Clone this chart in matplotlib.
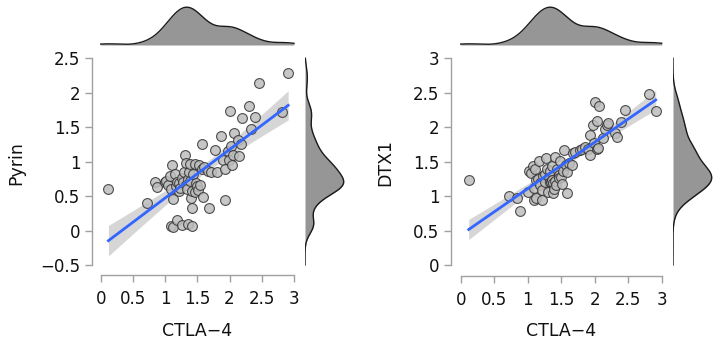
import matplotlib
matplotlib.use('Agg')
import matplotlib.pyplot as plt
import numpy as np

# CTLA-4 expression shared by both panels
ctla4 = [0.12, 0.72, 0.84, 0.88, 1.00, 1.02, 1.05, 1.08, 1.09, 1.09,
         1.11, 1.12, 1.13, 1.15, 1.17, 1.18, 1.19, 1.21, 1.22, 1.23,
         1.26, 1.26, 1.27, 1.29, 1.31, 1.32, 1.33, 1.34, 1.35, 1.36,
         1.37, 1.38, 1.38, 1.40, 1.41, 1.41, 1.42, 1.43, 1.46, 1.47,
         1.48, 1.50, 1.51, 1.53, 1.54, 1.57, 1.58, 1.59, 1.61, 1.66,
         1.68, 1.71, 1.78, 1.81, 1.86, 1.90, 1.93, 1.93, 1.98, 1.99,
         2.01, 2.03, 2.04, 2.05, 2.07, 2.13, 2.15, 2.18, 2.20, 2.30,
         2.33, 2.40, 2.45, 2.81, 2.91]

pyrin = [0.61, 0.40, 0.71, 0.63, 0.71, 0.72, 0.66, 0.79, 0.61, 0.06,
         0.95, 0.05, 0.46, 0.82, 0.64, 0.15, 0.70, 0.69, 0.58, 0.62,
         0.08, 0.76, 0.71, 0.85, 1.09, 0.98, 0.66, 0.61, 0.75, 0.10,
         0.85, 0.96, 0.72, 0.47, 0.32, 0.06, 0.58, 0.82, 0.56, 0.97,
         0.69, 0.64, 0.59, 0.95, 0.66, 0.90, 1.25, 0.49, 0.92, 0.86,
         0.32, 0.85, 1.17, 0.85, 1.37, 1.03, 0.44, 0.89, 1.15, 1.03,
         1.74, 1.23, 0.95, 1.09, 1.41, 1.31, 1.08, 1.26, 1.63, 1.81,
         1.47, 1.65, 2.14, 1.72, 2.29]

dtx1 = [1.24, 1.00, 0.97, 0.78, 1.06, 1.37, 1.33, 1.44, 0.95, 1.11,
        1.40, 0.97, 1.23, 1.25, 1.51, 1.19, 1.16, 1.09, 0.95, 1.29,
        1.21, 1.32, 1.55, 1.39, 1.06, 1.27, 1.20, 1.37, 1.20, 1.43,
        1.24, 1.19, 1.04, 1.10, 1.57, 1.22, 1.16, 1.39, 1.31, 1.26,
        1.51, 1.28, 1.18, 1.37, 1.67, 1.45, 1.35, 1.05, 1.48, 1.45,
        1.63, 1.64, 1.67, 1.68, 1.71, 1.69, 1.60, 1.88, 2.03, 1.77,
        2.36, 2.09, 1.69, 1.70, 2.31, 1.84, 1.98, 2.03, 2.06, 1.91,
        1.86, 2.07, 2.25, 2.48, 2.24]

x_ticks = [0, 0.5, 1, 1.5, 2, 2.5, 3]
pyrin_ticks = [-0.5, 0, 0.5, 1, 1.5, 2, 2.5]
dtx1_ticks = [0, 0.5, 1, 1.5, 2, 2.5, 3]

W, H = 720, 346
T_975 = 1.993  # t quantile for df = 73


def px_axes(fig, left, top, right, bottom):
    return fig.add_axes([left / W, 1 - bottom / H, (right - left) / W, (bottom - top) / H])


def kde(data, grid):
    data = np.asarray(data)
    n = len(data)
    iqr = np.percentile(data, 75) - np.percentile(data, 25)
    bw = 0.9 * min(data.std(ddof=1), iqr / 1.34) * n ** -0.2
    z = (grid[:, None] - data[None, :]) / bw
    return np.exp(-0.5 * z ** 2).sum(axis=1) / (n * bw * np.sqrt(2 * np.pi))


def fmt(v):
    s = ('%g' % v)
    return s.replace('-', '\u2212')


def panel(fig, x, y, yticks, ylabel, box, xlim, ylim, top_box, right_box, xlab_pos, ylab_pos):
    x = np.asarray(x)
    y = np.asarray(y)
    ax = px_axes(fig, *box)
    ax.set_xlim(*xlim)
    ax.set_ylim(*ylim)

    # linear fit with 95% confidence band
    n = len(x)
    b, a = np.polyfit(x, y, 1)
    xs = np.linspace(x.min(), x.max(), 100)
    fit = a + b * xs
    resid = y - (a + b * x)
    s = np.sqrt((resid ** 2).sum() / (n - 2))
    se = s * np.sqrt(1 / n + (xs - x.mean()) ** 2 / ((x - x.mean()) ** 2).sum())
    ax.fill_between(xs, fit - T_975 * se, fit + T_975 * se, color='#999999', alpha=0.4, lw=0, zorder=1)

    ax.scatter(x, y, s=50, facecolor='#bdbdbd', edgecolor='#333333', linewidths=0.8, alpha=0.85, zorder=2)
    ax.plot(xs, fit, color='#3366ff', lw=2, zorder=3)

    for side in ['top', 'right']:
        ax.spines[side].set_visible(False)
    ax.spines['left'].set_bounds(yticks[0], yticks[-1])
    ax.spines['bottom'].set_bounds(x_ticks[0], x_ticks[-1])
    for side in ['left', 'bottom']:
        ax.spines[side].set_color('#a0a0a0')
        ax.spines[side].set_linewidth(1)
    ax.set_xticks(x_ticks)
    ax.set_xticklabels([fmt(t) for t in x_ticks])
    ax.set_yticks(yticks)
    ax.set_yticklabels([fmt(t) for t in yticks])
    ax.tick_params(colors='#a0a0a0', labelcolor='#111111', labelsize=12, length=5, width=1)
    ax.tick_params(axis='x', pad=6)
    ax.tick_params(axis='y', pad=3)

    fig.text(xlab_pos[0] / W, 1 - xlab_pos[1] / H, 'CTLA\u22124', ha='center', va='center', fontsize=12.5, color='#111111')
    fig.text(ylab_pos[0] / W, 1 - ylab_pos[1] / H, ylabel, ha='center', va='center', rotation=90, fontsize=12.5, color='#111111')

    # top marginal density
    axt = px_axes(fig, *top_box)
    gx = np.linspace(x_ticks[0], x_ticks[-1], 300)
    dx = kde(x, gx)
    axt.fill_between(gx, 0, dx, color='#969696', lw=0)
    axt.plot(gx, dx, color='#1a1a1a', lw=1)
    axt.set_xlim(*xlim)
    axt.set_ylim(0, dx.max() / 0.9)
    axt.axis('off')

    # right marginal density
    axr = px_axes(fig, *right_box)
    gy = np.linspace(yticks[0], yticks[-1], 300)
    dy = kde(y, gy)
    axr.fill_betweenx(gy, 0, dy, color='#969696', lw=0)
    axr.plot(dy, gy, color='#1a1a1a', lw=1)
    axr.set_ylim(*ylim)
    axr.set_xlim(0, dy.max() / 0.86)
    axr.axis('off')


fig = plt.figure(figsize=(7.2, 3.46), dpi=100)

panel(fig, ctla4, pyrin, pyrin_ticks, 'Pyrin',
      box=(91.7, 50, 300, 275), xlim=(-0.1398, 3.094), ylim=(-0.645, 2.62),
      top_box=(91.7, 3, 300, 45), right_box=(305, 50, 350, 275),
      xlab_pos=(197, 331), ylab_pos=(16, 163))

panel(fig, ctla4, dtx1, dtx1_ticks, 'DTX1',
      box=(450.7, 50, 668, 276), xlim=(-0.149, 3.094), ylim=(-0.16, 3.12),
      top_box=(450.7, 3, 668, 45), right_box=(673, 50, 718, 276),
      xlab_pos=(561, 331), ylab_pos=(385, 163))

fig.savefig('out.png', dpi=100)
